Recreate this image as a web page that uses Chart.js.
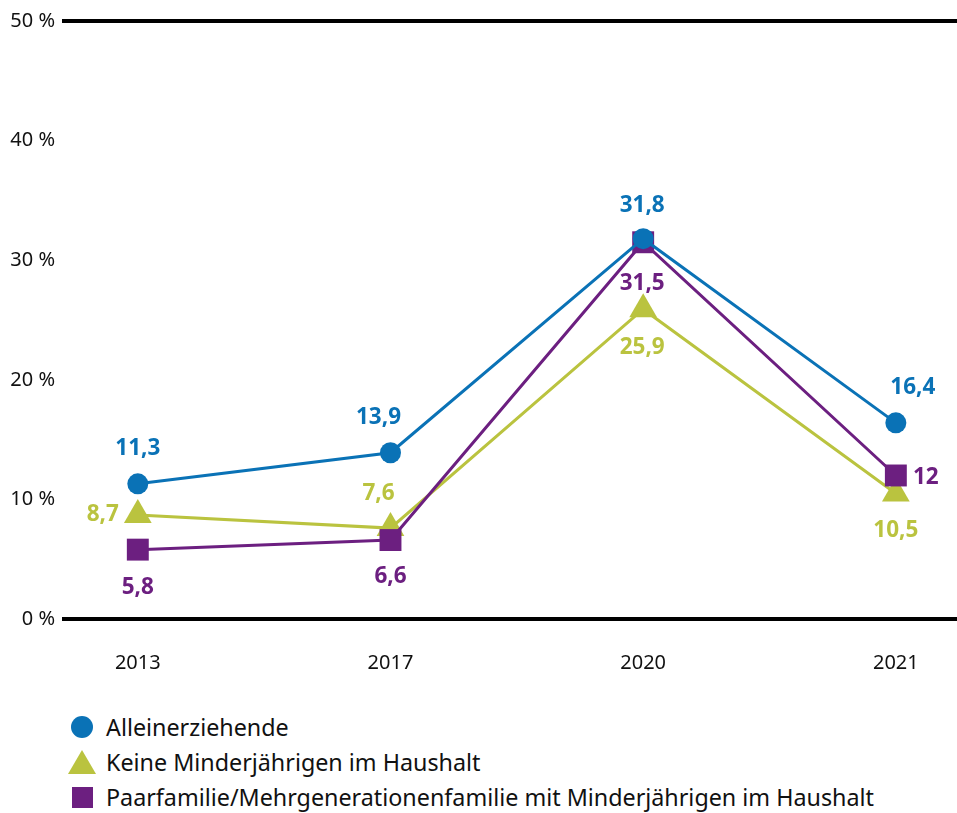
<!DOCTYPE html>
<html>
<head>
<meta charset="utf-8">
<script src="https://cdn.jsdelivr.net/npm/chart.js@4.4.1/dist/chart.umd.min.js"></script>
<style>
  body { margin: 0; background: #fff; font-family: "Noto Sans", sans-serif; }
  #wrap { position: relative; width: 957px; height: 813px; overflow: hidden; }
  #chartBox { position: absolute; left: 0; top: 0; width: 957px; height: 700px; }
  .row { position: absolute; left: 68px; height: 34px; display: flex; align-items: center;
         font-size: 23.3px; color: #111; white-space: nowrap; }
  .mark { width: 28px; height: 28px; display: flex; justify-content: center; align-items: center; margin-right: 10px; }
</style>
</head>
<body>
<div id="wrap">
  <div id="chartBox"><canvas id="myChart"></canvas></div>
  <div id="legend"></div>
</div>
<script>
// data
const years = ["2013", "2017", "2020", "2021"];
const alleinerziehende = [11.3, 13.9, 31.8, 16.4];
const keineMinderjaehrigen = [8.7, 7.6, 25.9, 10.5];
const paarfamilie = [5.8, 6.6, 31.5, 12];
const yTicks = [0, 10, 20, 30, 40, 50];
const seriesNames = [
  "Alleinerziehende",
  "Keine Minderjährigen im Haushalt",
  "Paarfamilie/Mehrgenerationenfamilie mit Minderjährigen im Haushalt"
];

const blue = "#0a72b6";
const green = "#bac33f";
const purple = "#6c1f80";

// where each value label sits, relative to its point
const labelOffsets = [
  [[0, -35], [-12, -35], [-1, -33], [17, -35]],
  [[-35, 0], [-12, -35], [-1, 38], [0, 37]],
  [[0, 38], [0, 37], [-1, 41], [30, 2]]
];

const toPoints = arr => arr.map((v, i) => ({ x: i, y: v }));

const valueLabels = {
  id: "valueLabels",
  afterDatasetsDraw(chart) {
    const ctx = chart.ctx;
    ctx.save();
    ctx.font = "bold 22.5px 'Noto Sans'";
    ctx.textAlign = "center";
    ctx.textBaseline = "middle";
    chart.data.datasets.forEach((ds, di) => {
      const meta = chart.getDatasetMeta(di);
      meta.data.forEach((pt, i) => {
        const off = labelOffsets[di][i];
        ctx.fillStyle = ds.borderColor;
        ctx.fillText(String(ds.data[i].y).replace(".", ","), pt.x + off[0], pt.y + off[1]);
      });
    });
    ctx.restore();
  }
};

const ctx = document.getElementById("myChart").getContext("2d");
const myChart = new Chart(ctx, {
  type: "line",
  data: {
    datasets: [
      {
        label: seriesNames[0],
        data: toPoints(alleinerziehende),
        borderColor: blue,
        backgroundColor: blue,
        pointStyle: "circle",
        pointRadius: 10.5,
        order: 1
      },
      {
        label: seriesNames[1],
        data: toPoints(keineMinderjaehrigen),
        borderColor: green,
        backgroundColor: green,
        pointStyle: "triangle",
        pointRadius: 16,
        order: 3
      },
      {
        label: seriesNames[2],
        data: toPoints(paarfamilie),
        borderColor: purple,
        backgroundColor: purple,
        pointStyle: "rect",
        pointRadius: 15.5,
        order: 2
      }
    ]
  },
  options: {
    responsive: true,
    maintainAspectRatio: false,
    animation: false,
    events: [],
    clip: false,
    layout: { autoPadding: false, padding: { top: 21, left: 0, right: 0, bottom: 0 } },
    elements: {
      line: { borderWidth: 3, tension: 0 },
      point: { borderWidth: 0, hoverRadius: 0 }
    },
    plugins: {
      legend: { display: false },
      tooltip: { enabled: false }
    },
    scales: {
      x: {
        type: "linear",
        min: -0.3,
        max: 3.242,
        afterBuildTicks: scale => { scale.ticks = years.map((_, i) => ({ value: i })); },
        afterFit: scale => {
          scale.height = 81;
          scale.paddingLeft = 0;
          scale.paddingRight = 0;
        },
        ticks: {
          callback: v => years[v],
          font: { family: "Noto Sans", size: 20 },
          color: "#111",
          padding: 24,
          maxRotation: 0
        },
        grid: { display: false },
        border: { display: false }
      },
      y: {
        min: 0,
        max: 50,
        afterBuildTicks: scale => { scale.ticks = yTicks.map(v => ({ value: v })); },
        afterFit: scale => { scale.width = 62; },
        ticks: {
          callback: v => v + " %",
          font: { family: "Noto Sans", size: 20 },
          color: "#111",
          padding: 7
        },
        grid: {
          color: c => (c.tick && (c.tick.value === 0 || c.tick.value === 50)) ? "#000" : "rgba(0,0,0,0)",
          lineWidth: 4,
          drawTicks: false
        },
        border: { display: false }
      }
    }
  },
  plugins: [valueLabels]
});

// legend below the chart
const legendColors = [blue, green, purple];
const legendTops = [710, 745, 780];
const legend = document.getElementById("legend");
seriesNames.forEach((name, i) => {
  const row = document.createElement("div");
  row.className = "row";
  row.style.top = legendTops[i] + "px";
  const mark = document.createElement("div");
  mark.className = "mark";
  const shape = document.createElement("div");
  if (i === 0) {
    shape.style.cssText = `width:22px;height:22px;border-radius:50%;background:${legendColors[i]}`;
  } else if (i === 1) {
    shape.style.cssText = `width:0;height:0;border-left:14px solid transparent;border-right:14px solid transparent;border-bottom:24px solid ${legendColors[i]}`;
  } else {
    shape.style.cssText = `width:21px;height:21px;background:${legendColors[i]}`;
  }
  mark.appendChild(shape);
  const txt = document.createElement("span");
  txt.textContent = name;
  row.appendChild(mark);
  row.appendChild(txt);
  legend.appendChild(row);
});
</script>
</body>
</html>
